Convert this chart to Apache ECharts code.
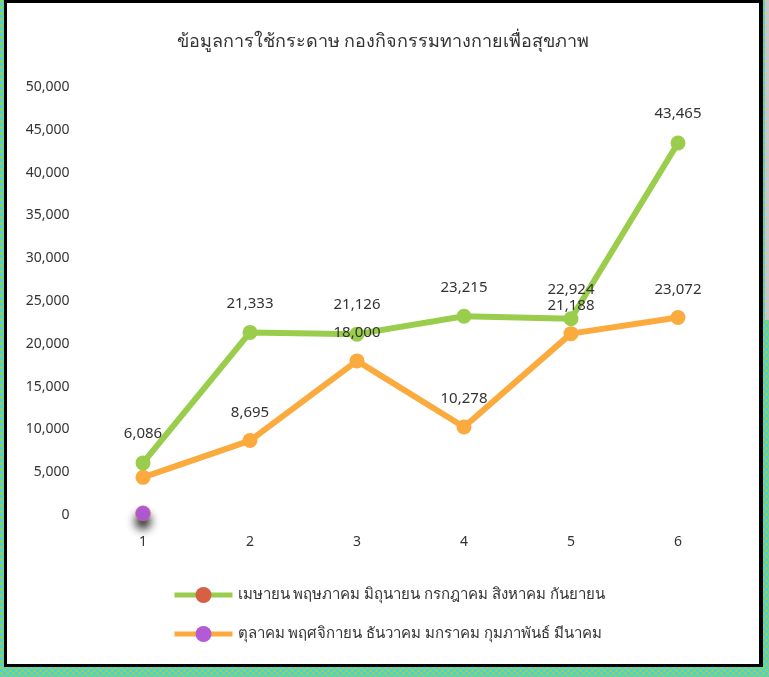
<!DOCTYPE html>
<html>
<head>
<meta charset="utf-8">
<script src="https://cdn.jsdelivr.net/npm/echarts@6/dist/echarts.min.js"></script>
<style>
  html, body { margin: 0; padding: 0; }
  body {
    width: 769px; height: 677px; position: relative; overflow: hidden;
    background-color: #9ccf4f;
    background-image: repeating-conic-gradient(#3fd3ee 0 25%, #9ccf4f 0 50%);
    background-size: 6px 6px;
  }
  #grayStrip { position: absolute; left: 765px; top: 0; width: 4px; height: 320px; background: #c8c8c8; }
  #frame { position: absolute; left: 4px; top: 0px; width: 759px; height: 667px; background: #000; }
  #chart { position: absolute; left: 7px; top: 3px; width: 752px; height: 661px; background: #fff; }
</style>
</head>
<body>
<div id="grayStrip"></div>
<div id="frame"></div>
<div id="chart"></div>
<script>
const titleText = 'ข้อมูลการใช้กระดาษ กองกิจกรรมทางกายเพื่อสุขภาพ';
const categories = ['1', '2', '3', '4', '5', '6'];
const series1Name = 'เมษายน พฤษภาคม มิถุนายน กรกฎาคม สิงหาคม กันยายน';
const series2Name = 'ตุลาคม พฤศจิกายน ธันวาคม มกราคม กุมภาพันธ์ มีนาคม';
const series1Values = [6086, 21333, 21126, 23215, 22924, 43465];
const series2Values = [4400, 8695, 18000, 10278, 21188, 23072];
const series2Labeled = [false, true, true, true, true, true];
const extraPointValues = [200, null, null, null, null, null];
const yTicks = { min: 0, max: 50000, interval: 5000 };

const fontFam = 'Tahoma, "Noto Sans", "DejaVu Sans", sans-serif';
const green = '#9acd4c';
const orange = '#fbaa3d';
const red = '#d65f44';
const purple = '#b35bd6';

const chart = echarts.init(document.getElementById('chart'));
const fmt = v => Number(v).toLocaleString('en-US');

chart.setOption({
  animation: false,
  backgroundColor: '#fff',
  title: {
    text: titleText,
    left: 'center',
    top: 25,
    textStyle: { fontFamily: fontFam, fontSize: 18, fontWeight: 'normal', color: '#333' }
  },
  grid: { left: 82.5, top: 84, width: 642, height: 428 },
  xAxis: {
    type: 'category',
    data: categories,
    boundaryGap: true,
    axisLine: { show: false },
    axisTick: { show: false },
    axisLabel: { margin: 20, fontFamily: fontFam, fontSize: 14, color: '#333' }
  },
  yAxis: {
    type: 'value',
    min: yTicks.min, max: yTicks.max, interval: yTicks.interval,
    axisLine: { show: false },
    axisTick: { show: false },
    splitLine: { show: false },
    axisLabel: { margin: 20, fontFamily: fontFam, fontSize: 14, color: '#333',
      formatter: v => fmt(v) }
  },
  legend: {
    orient: 'vertical',
    left: 165,
    top: 584,
    padding: 0,
    itemWidth: 58,
    itemHeight: 20,
    itemGap: 23,
    textStyle: { fontFamily: fontFam, fontSize: 15, color: '#333' },
    data: [
      { name: series1Name, itemStyle: { color: red }, lineStyle: { color: green, width: 5 } },
      { name: series2Name, itemStyle: { color: purple }, lineStyle: { color: orange, width: 5 } }
    ]
  },
  series: [
    {
      name: series2Name,
      type: 'line',
      data: series2Values.map((v, i) => ({
        value: v,
        label: { show: series2Labeled[i] }
      })),
      symbol: 'circle',
      symbolSize: 15,
      lineStyle: { color: orange, width: 6 },
      itemStyle: { color: orange },
      label: { show: true, position: 'top', distance: 13, fontFamily: fontFam, fontSize: 15, color: '#333',
        formatter: p => fmt(p.value) }
    },
    {
      name: series1Name,
      type: 'line',
      data: series1Values,
      symbol: 'circle',
      symbolSize: 15,
      lineStyle: { color: green, width: 6 },
      itemStyle: { color: green },
      label: { show: true, position: 'top', distance: 14, fontFamily: fontFam, fontSize: 15, color: '#333',
        formatter: p => fmt(p.value) }
    },
    {
      name: 'extra',
      type: 'line',
      data: extraPointValues,
      symbol: 'circle',
      symbolSize: 15,
      showSymbol: true,
      lineStyle: { width: 0 },
      itemStyle: { color: purple, borderColor: '#e07070', borderWidth: 0.5,
        shadowBlur: 10, shadowColor: 'rgba(0,0,0,0.9)', shadowOffsetY: 8 },
      label: { show: false }
    }
  ]
});
</script>
</body>
</html>
